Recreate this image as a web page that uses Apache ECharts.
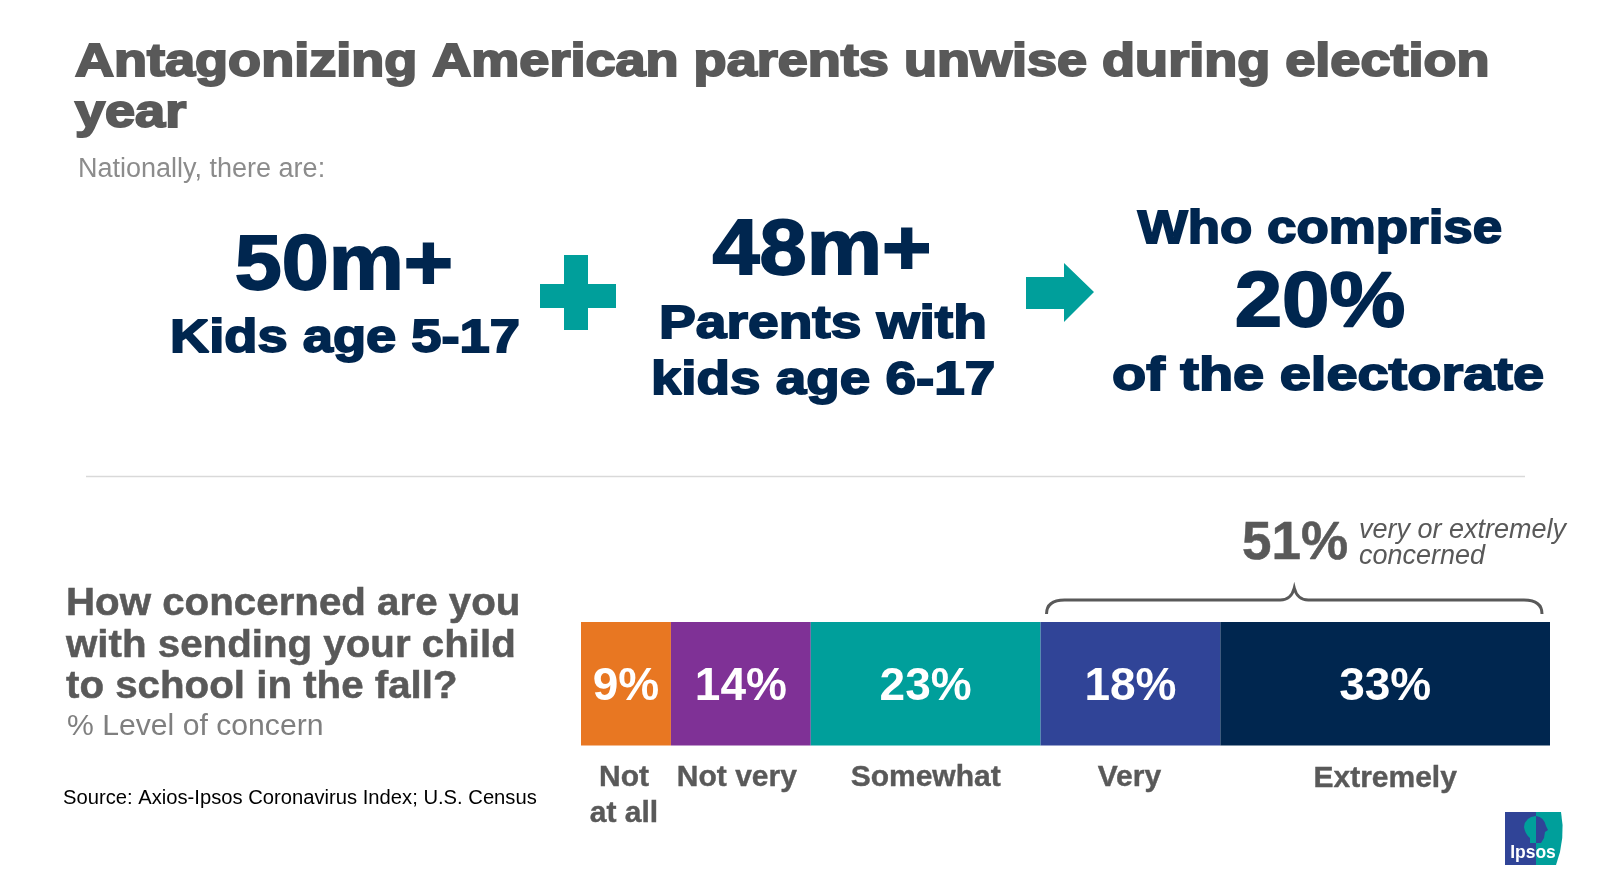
<!DOCTYPE html>
<html>
<head>
<meta charset="utf-8">
<style>html,body{margin:0;padding:0;background:#fff}#main{width:1611px;height:886px}</style>
<script src="https://cdn.jsdelivr.net/npm/echarts@6/dist/echarts.min.js"></script>
</head>
<body>
<div id="main"></div>
<script>
const levels = ['Not\nat all', 'Not very', 'Somewhat', 'Very', 'Extremely'];
const concern = [9, 14, 23, 18, 33];
const colors = ['#E87722', '#7F3196', '#009F9B', '#304497', '#00264F'];
const FONT = '"Liberation Sans", Arial, sans-serif';
const NAVY = '#00264F', GREY = '#595959', TEAL = '#009F9B';

const chart = echarts.init(document.getElementById('main'));
const total = concern.reduce((a, b) => a + b, 0);

chart.setOption({
  animation: false,
  backgroundColor: '#ffffff',
  grid: { left: 581, top: 622, width: 969, height: 123.5 },
  xAxis: { type: 'value', min: 0, max: total, show: false },
  yAxis: { type: 'category', data: ['Level of concern'], show: false },
  series: concern.map((v, i) => ({
    type: 'bar',
    name: levels[i],
    stack: 'concern',
    barWidth: '100%',
    data: [v],
    itemStyle: { color: colors[i] },
    label: {
      show: true,
      position: 'inside',
      offset: [0, 4],
      formatter: '{c}%',
      color: '#fff',
      fontFamily: FONT,
      fontWeight: 'bold',
      fontSize: 46
    }
  }))
});

function txt(text, x, y, size, color, extra) {
  const o = extra || {};
  return {
    type: 'text',
    x: x, y: y,
    scaleX: o.sx || 1,
    style: {
      text: text,
      x: 0, y: 0,
      fill: color,
      font: (o.italic ? 'italic ' : '') + (o.bold === false ? '' : 'bold ') + size + 'px ' + FONT,
      align: o.align || 'center',
      verticalAlign: 'middle',
      lineHeight: o.lh,
      stroke: o.stroke ? color : null,
      lineWidth: o.stroke || 0
    }
  };
}

// names under the bar follow the bar scale
const nameNudge = [-2, -4, 0, -1, 0];
let run = 0;
const levelLabels = concern.map((v, i) => {
  const cx = chart.convertToPixel({ xAxisIndex: 0 }, run + v / 2) + nameNudge[i];
  run += v;
  return txt(levels[i], cx, i === 0 ? 796 : (i === 4 ? 779 : 778), 30, GREY, { lh: 36, stroke: 0.4 });
});

const braceL = chart.convertToPixel({ xAxisIndex: 0 }, total - concern[3] - concern[4]) + 6;
const braceR = chart.convertToPixel({ xAxisIndex: 0 }, total) - 8;
const braceM = (braceL + braceR) / 2;
const bt = 600, be = 614, bp = 588;
echarts.graphic.registerShape('brace', echarts.graphic.extendPath(
  `M${braceL} ${be} Q${braceL} ${bt} ${braceL + 18} ${bt} L${braceM - 14} ${bt} Q${braceM - 3} ${bt} ${braceM} ${bp} Q${braceM + 3} ${bt} ${braceM + 14} ${bt} L${braceR - 18} ${bt} Q${braceR} ${bt} ${braceR} ${be}`
));
echarts.graphic.registerShape('logoTeal', echarts.graphic.extendPath('M1536 812 L1561 812 Q1566 838 1556 865 L1536 865 Z'));
echarts.graphic.registerShape('headLeft', echarts.graphic.extendPath('M1536 816 Q1525 817 1524 827 Q1525 834 1530 838 L1530 843 L1536 843 Z'));
echarts.graphic.registerShape('headRight', echarts.graphic.extendPath('M1536 816 Q1544 817 1546 826 L1548 830 L1545 832 L1544 838 L1541 843 L1536 843 Z'));

const heavy = (sx) => ({ stroke: 1.8, sx: sx });

chart.setOption({
  graphic: [
    txt('Antagonizing American parents unwise during election', 75, 63, 46, GREY, { stroke: 2, align: 'left', sx: 1.175 }),
    txt('year', 75, 114, 46, GREY, { stroke: 2, align: 'left', sx: 1.175 }),
    txt('Nationally, there are:', 78, 170, 27, '#8C8C8C', { bold: false, align: 'left' }),

    txt('50m+', 344, 268, 77, NAVY, heavy(1.097)),
    txt('Kids age 5-17', 345, 339, 47, NAVY, heavy(1.155)),
    txt('48m+', 822, 253, 77, NAVY, heavy(1.1)),
    txt('Parents with', 823, 325, 47, NAVY, heavy(1.173)),
    txt('kids age 6-17', 823, 381, 47, NAVY, heavy(1.166)),
    txt('Who comprise', 1320, 230, 47, NAVY, heavy(1.125)),
    txt('20%', 1320, 305, 77, NAVY, heavy(1.107)),
    txt('of the electorate', 1328, 377, 47, NAVY, heavy(1.19)),

    { type: 'polygon', shape: { points: [[564, 255], [588, 255], [588, 284], [616, 284], [616, 308], [588, 308], [588, 330], [564, 330], [564, 308], [540, 308], [540, 284], [564, 284]] }, style: { fill: TEAL } },
    { type: 'polygon', shape: { points: [[1026, 277], [1064, 277], [1064, 263], [1094, 292], [1064, 322], [1064, 309], [1026, 309]] }, style: { fill: TEAL } },
    { type: 'line', shape: { x1: 86, y1: 476.5, x2: 1525, y2: 476.5 }, style: { stroke: '#D9D9D9', lineWidth: 1.5 } },

    txt('51%', 1242, 544, 53, GREY, { align: 'left', stroke: 0.5 }),
    txt('very or extremely', 1359, 530, 27, GREY, { italic: true, bold: false, align: 'left' }),
    txt('concerned', 1359, 556, 27, GREY, { italic: true, bold: false, align: 'left' }),
    { type: 'brace', shape: {}, style: { fill: null, stroke: GREY, lineWidth: 3 } },

    txt('How concerned are you', 66, 605, 38, GREY, { align: 'left', stroke: 0.5, sx: 1.06 }),
    txt('with sending your child', 66, 647, 38, GREY, { align: 'left', stroke: 0.5, sx: 1.06 }),
    txt('to school in the fall?', 66, 688, 38, GREY, { align: 'left', stroke: 0.5, sx: 1.06 }),
    txt('% Level of concern', 67, 727, 29, '#7F7F7F', { bold: false, align: 'left', sx: 1.04 }),
    txt('Source: Axios-Ipsos Coronavirus Index; U.S. Census', 63, 798, 20, '#000000', { bold: false, align: 'left', sx: 1.01 }),

    ...levelLabels,

    // Ipsos logo
    { type: 'rect', shape: { x: 1505, y: 812, width: 32, height: 53 }, style: { fill: '#304497' } },
    { type: 'logoTeal', shape: {}, style: { fill: TEAL } },
    { type: 'headLeft', shape: {}, style: { fill: TEAL } },
    { type: 'headRight', shape: {}, style: { fill: '#304497' } },
    txt('Ipsos', 1533, 853, 19, '#ffffff', { sx: 0.92 })
  ]
});
</script>
</body>
</html>
